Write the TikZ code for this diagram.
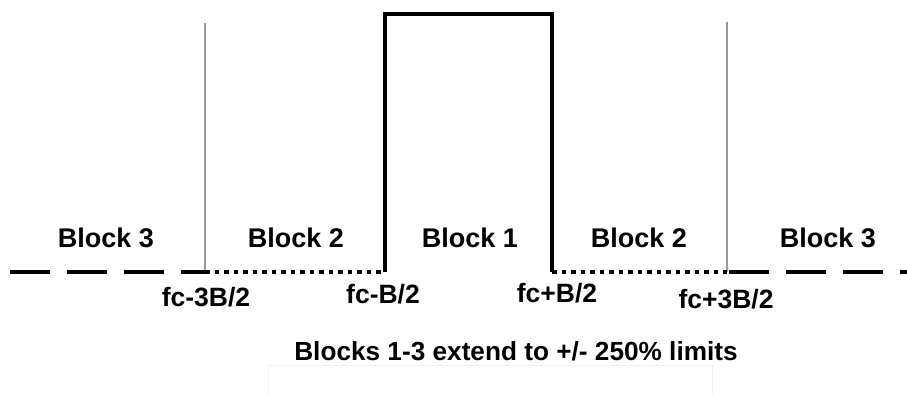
\documentclass[tikz,border=0pt]{standalone}
\usepackage{fontspec}
\setmainfont{Liberation Sans}
\begin{document}
\begin{tikzpicture}[x=1pt,y=-1pt,
  dashline/.style={line width=4pt,dash pattern=on 40pt off 17pt},
  dotline/.style={line width=4pt,dash pattern=on 4.5pt off 5pt},
  blockline/.style={line width=4.5pt,line join=miter},
  grayline/.style={line width=1.5pt,draw=black!40},
  lbl/.style={anchor=base,inner sep=0pt,font=\bfseries\fontsize{27}{30}\selectfont},
  fclbl/.style={anchor=base,inner sep=0pt,font=\bfseries\fontsize{26.5}{30}\selectfont},
  caption/.style={anchor=base,inner sep=0pt,font=\bfseries\fontsize{26.2}{30}\selectfont},
  faint/.style={line width=1pt,draw=black!6}]
\useasboundingbox (0,0) rectangle (907,394);
% key points
\coordinate (L0) at (10,272);
\coordinate (g1) at (205,272);
\coordinate (g1t) at (205,23);
\coordinate (b1l) at (385,272);
\coordinate (t1l) at (385,14);
\coordinate (t1r) at (552,14);
\coordinate (b1r) at (552,272);
\coordinate (g2) at (727,272);
\coordinate (g2t) at (727,22);
\coordinate (g2d) at (729,272);
\coordinate (R0) at (907,272);
% gray separators
\draw[grayline] (g1) -- (g1t);
\draw[grayline] (g2) -- (g2t);
% baseline
\draw[dashline] (L0) -- (g1);
\draw[dotline] (g1) -- (b1l);
\draw[dotline] (b1r) -- (g2);
\draw[dashline] (g2d) -- (R0);
% block 1
\draw[blockline] (b1l) -- (t1l) -- (t1r) -- (b1r);
% labels
\node[lbl] (blk3l) at (106,247) {Block 3};
\node[lbl] (blk2l) at (296,247) {Block 2};
\node[lbl] (blk1) at (470,247) {Block 1};
\node[lbl] (blk2r) at (639,247) {Block 2};
\node[lbl] (blk3r) at (828,247) {Block 3};
\node[fclbl] (f1) at (206,306) {fc-3B/2};
\node[fclbl] (f2) at (383,303) {fc-B/2};
\node[fclbl] (f3) at (557,302) {fc+B/2};
\node[fclbl] (f4) at (726,308) {fc+3B/2};
\node[caption] (cap) at (516,360) {Blocks 1-3 extend to +/- 250\% limits};
% faint box
\draw[faint] (268,394) -- (268,365) -- (712,365) -- (712,394);
\end{tikzpicture}
\end{document}
